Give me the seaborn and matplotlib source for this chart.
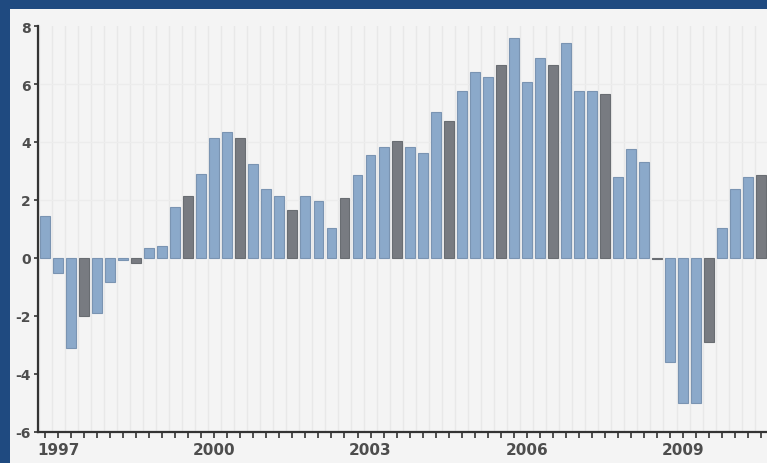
import matplotlib
matplotlib.use("Agg")
import matplotlib.pyplot as plt
import seaborn as sns
import pandas as pd
from matplotlib.patches import Rectangle

# ---- data ----
values = [1.45, -0.52, -3.1, -2.0, -1.9, -0.82, -0.06, -0.16,
          0.35, 0.42, 1.75, 2.15, 2.9, 4.15, 4.33, 4.15,
          3.25, 2.37, 2.15, 1.65, 2.15, 1.95, 1.05, 2.07,
          2.87, 3.55, 3.83, 4.05, 3.83, 3.62, 5.05, 4.74,
          5.77, 6.43, 6.25, 6.67, 7.58, 6.08, 6.88, 6.67,
          7.4, 5.77, 5.77, 5.64, 2.78, 3.77, 3.32, -0.05,
          -3.58, -5.0, -5.0, -2.9, 1.05, 2.37, 2.78, 2.86]
quarters = ["Q4", "Q1", "Q2", "Q3"] * 14
start_year = 1996
year_labels = ["1997", "2000", "2003", "2006", "2009"]
highlight_quarter = "Q3"

# build table
years, y = [], start_year
for q in quarters:
    if q == "Q1":
        y += 1
    years.append(str(y))
df = pd.DataFrame({"pos": range(len(values)), "value": values,
                   "quarter": quarters, "year": years})
df["group"] = ["dark" if q == highlight_quarter else "light" for q in df["quarter"]]

W, H = 767, 464
fig = plt.figure(figsize=(W / 100, H / 100), dpi=100)
fig.patch.set_facecolor("#1f4a80")
fig.add_artist(Rectangle((10 / W, 0), 1 - 10 / W, (H - 10) / H,
                         transform=fig.transFigure, facecolor="#f4f4f4",
                         edgecolor="none", zorder=0))

ax = fig.add_axes([38 / W, 31 / H, (W - 38) / W, 406 / H])
ax.set_facecolor("none")

# faint grid
for i in range(len(values) + 1):
    ax.axvline(i - 0.5, color="#e8e8e8", lw=1.0, zorder=0)
for yy in [2, 4, 6]:
    ax.axhline(yy, color="#ececec", lw=1.0, zorder=0)

sns.barplot(data=df, x="pos", y="value", hue="group",
            palette={"light": "#80a8d5", "dark": "#767b83"},
            dodge=False, legend=False, width=0.76, ax=ax,
            linewidth=0, zorder=2)
for bar in ax.patches:
    fc = bar.get_facecolor()
    bar.set_edgecolor((fc[0] * 0.88, fc[1] * 0.88, fc[2] * 0.88, 1))
    bar.set_linewidth(0.8)

ax.set_xlim(-0.54, len(values) - 1 + 0.45)
ax.set_ylim(-6, 8)
ax.set_yticks(range(-6, 9, 2))
ax.set_yticklabels([str(v) for v in range(-6, 9, 2)])

ax.set_xticks(range(len(values)))
xl = []
for yr, q in zip(df["year"], df["quarter"]):
    xl.append(yr if (q == "Q1" and yr in year_labels) else "")
ax.set_xticklabels(xl)
ax.set_xlabel("")
ax.set_ylabel("")

for s in ["top", "right"]:
    ax.spines[s].set_visible(False)
for s in ["left", "bottom"]:
    ax.spines[s].set_color("#333333")
    ax.spines[s].set_linewidth(1.6)
ax.tick_params(axis="x", length=4, width=1.2, color="#333333",
               labelsize=11, labelcolor="#4d4d4d", pad=3)
ax.tick_params(axis="y", length=3, width=1.2, color="#333333",
               labelsize=10, labelcolor="#4d4d4d", pad=2)
for t in ax.get_xticklabels() + ax.get_yticklabels():
    t.set_fontweight("bold")

fig.savefig("out.png", dpi=100, facecolor=fig.get_facecolor())
